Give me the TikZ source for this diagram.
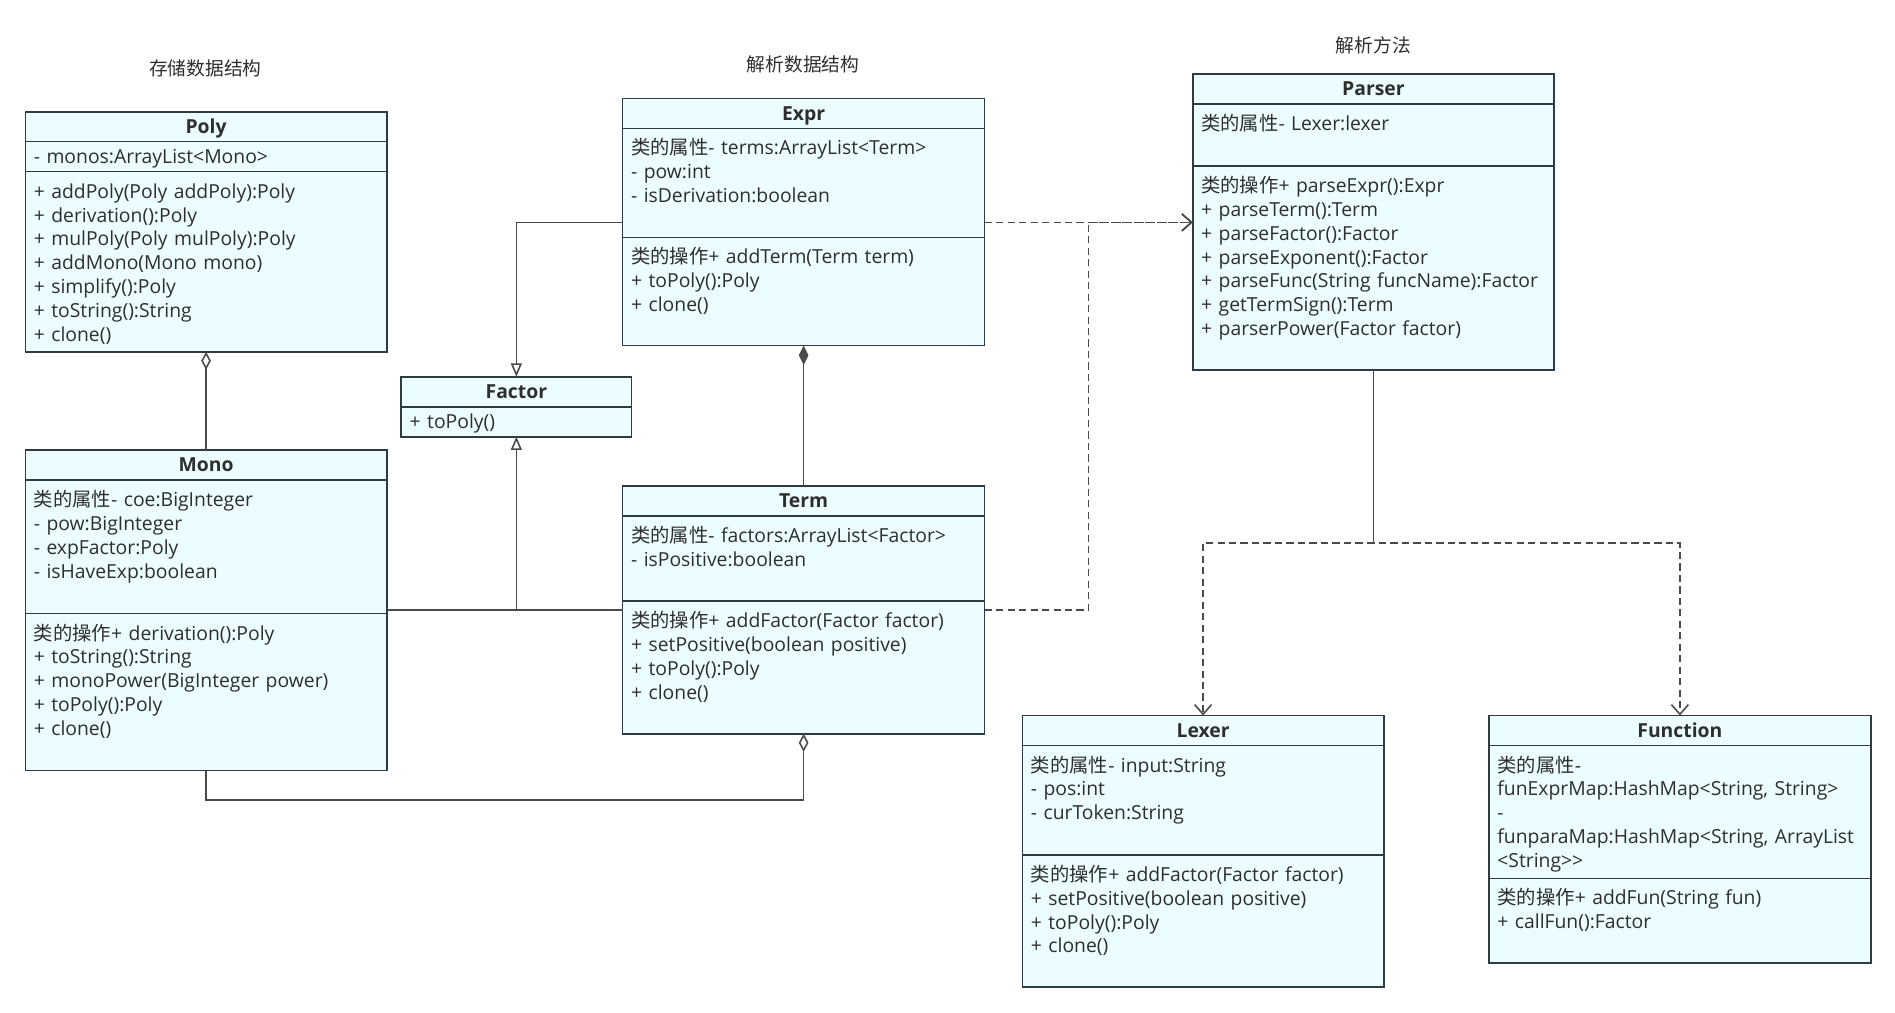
\documentclass[tikz,border=0pt]{standalone}
\usepackage{fontspec}
\setmainfont{Open Sans}
\newfontfamily\cjk{Noto Sans CJK SC}
\usetikzlibrary{positioning,arrows.meta,calc}
\definecolor{boxfill}{HTML}{EBFDFE}
\definecolor{boxline}{HTML}{2F3B41}
\definecolor{ink}{HTML}{2E2E2E}
\definecolor{wire}{HTML}{4A4A4A}
\begin{document}
\begin{tikzpicture}[
    x=1pt, y=1pt,
    grouptitle/.style={font=\cjk\fontsize{15.5}{18}\selectfont, text=ink},
    classhead/.style={rectangle, draw=boxline, fill=boxfill, line width=1.4pt, outer sep=0pt, anchor=north west, minimum width=#1, minimum height=24.8pt, text height=12pt, text depth=1pt, font=\bfseries\fontsize{16}{19.7}\selectfont, text=ink},
    compart/.style={rectangle, draw=boxline, fill=boxfill, line width=1.4pt, outer sep=0pt, inner xsep=7pt, inner ysep=5pt, align=left, text height=17pt, text depth=#1, font=\fontsize{16}{19.7}\selectfont, text=ink},
    onepart/.style={compart=1.8pt, text height=13pt},
    wireline/.style={draw=wire, line width=1.3pt},
    inherit/.style={wireline, -{Triangle[open, length=11pt, width=9pt]}},
    aggr/.style={wireline, {Diamond[open, length=15pt, width=8pt]}-},
    compo/.style={wireline, {Diamond[length=16pt, width=8pt]}-},
    dep/.style={wireline, dash pattern=on 6pt off 3.5pt, -{Straight Barb[length=8pt, width=14pt]}},
  ]
  \useasboundingbox (0,0) rectangle (1568,-838);

  \node[grouptitle] (store) at (170,-57) {存储数据结构};
  \node[grouptitle] (parsing) at (664.5,-53) {解析数据结构};
  \node[grouptitle] (method) at (1136.4,-37.5) {解析方法};

  \node[classhead=299pt] (poly) at (21,-92.4) {Poly};
  \node[onepart, text width=285pt, below=0pt of poly] (poly-a) {- monos:ArrayList<Mono>};
  \node[compart=122pt, text width=285pt, below=0pt of poly-a] (poly-o) {+ addPoly(Poly addPoly):Poly\\+ derivation():Poly\\+ mulPoly(Poly mulPoly):Poly\\+ addMono(Mono mono)\\+ simplify():Poly\\+ toString():String\\+ clone()};

  \node[classhead=299pt] (mono) at (21,-372.4) {Mono};
  \node[compart=83.4pt, text width=285pt, below=0pt of mono] (mono-a) {{\cjk 类的属性}- coe:BigInteger\\- pow:BigInteger\\- expFactor:Poly\\- isHaveExp:boolean};
  \node[compart=103pt, text width=285pt, below=0pt of mono-a] (mono-o) {{\cjk 类的操作}+ derivation():Poly\\+ toString():String\\+ monoPower(BigInteger power)\\+ toPoly():Poly\\+ clone()};

  \node[classhead=190.5pt] (factor) at (332,-311.7) {Factor};
  \node[onepart, text width=176.5pt, below=0pt of factor] (factor-o) {+ toPoly()};

  \node[classhead=299.5pt] (expr) at (515.2,-81.4) {Expr};
  \node[compart=63.2pt, text width=285.5pt, below=0pt of expr] (expr-a) {{\cjk 类的属性}- terms:ArrayList<Term>\\- pow:int\\- isDerivation:boolean};
  \node[compart=62.6pt, text width=285.5pt, below=0pt of expr-a] (expr-o) {{\cjk 类的操作}+ addTerm(Term term)\\+ toPoly():Poly\\+ clone()};

  \node[classhead=299.5pt] (term) at (515.2,-402.2) {Term};
  \node[compart=43.3pt, text width=285.5pt, below=0pt of term] (term-a) {{\cjk 类的属性}- factors:ArrayList<Factor>\\- isPositive:boolean};
  \node[compart=82.8pt, text width=285.5pt, below=0pt of term-a] (term-o) {{\cjk 类的操作}+ addFactor(Factor factor)\\+ setPositive(boolean positive)\\+ toPoly():Poly\\+ clone()};

  \node[classhead=299pt] (parser) at (986.9,-61.2) {Parser};
  \node[compart=24.4pt, text width=285pt, below=0pt of parser] (parser-a) {{\cjk 类的属性}- Lexer:lexer};
  \node[compart=141.8pt, text width=285pt, below=0pt of parser-a] (parser-o) {{\cjk 类的操作}+ parseExpr():Expr\\+ parseTerm():Term\\+ parseFactor():Factor\\+ parseExponent():Factor\\+ parseFunc(String~funcName):Factor\\+ getTermSign():Term\\+ parserPower(Factor factor)};

  \node[classhead=299pt] (lexer) at (846,-592) {Lexer};
  \node[compart=63.5pt, text width=285pt, below=0pt of lexer] (lexer-a) {{\cjk 类的属性}- input:String\\- pos:int\\- curToken:String};
  \node[compart=82.5pt, text width=285pt, below=0pt of lexer-a] (lexer-o) {{\cjk 类的操作}+ addFactor(Factor factor)\\+ setPositive(boolean positive)\\+ toPoly():Poly\\+ clone()};

  \node[classhead=316pt] (function) at (1232,-592) {Function};
  \node[compart=83pt, text width=302pt, below=0pt of function] (function-a) {{\cjk 类的属性}-\\funExprMap:HashMap<String,~String>\\-\\funparaMap:HashMap<String,~ArrayList\\<String>{}>};
  \node[compart=43pt, text width=302pt, below=0pt of function-a] (function-o) {{\cjk 类的操作}+ addFun(String fun)\\+ callFun():Factor};

  \draw[aggr] (poly-o.south) -- (mono.north);
  \coordinate[above=12.4pt of expr-a.south west] (exprleft);
  \draw[inherit] (exprleft) -| (factor.north);
  \coordinate[below=7.5pt of term-o.north west] (termleft);
  \draw[inherit] (termleft) -| (factor-o.south);
  \draw[wireline] (termleft -| mono-o.east) -- (termleft);
  \draw[compo] (expr-o.south) -- (term.north);
  \draw[aggr] (term-o.south) -- ++(0,-55) -| (mono-o.south);

  \coordinate[above=12.4pt of expr-a.south east] (exprright);
  \coordinate[below=7.5pt of term-o.north east] (termright);
  \draw[dep] (exprright) -- (exprright -| parser-o.west);
  \draw[dep] (termright) -| ($(exprright)!0.5!(exprright -| parser-o.west)$) -- (exprright -| parser-o.west);

  \coordinate[below=143pt of parser-o.south] (fork);
  \draw[dep] (parser-o.south) -- (fork) -| (lexer.north);
  \draw[dep, dash phase=4.5pt] (parser-o.south) -- (fork) -| (function.north);
\end{tikzpicture}
\end{document}
